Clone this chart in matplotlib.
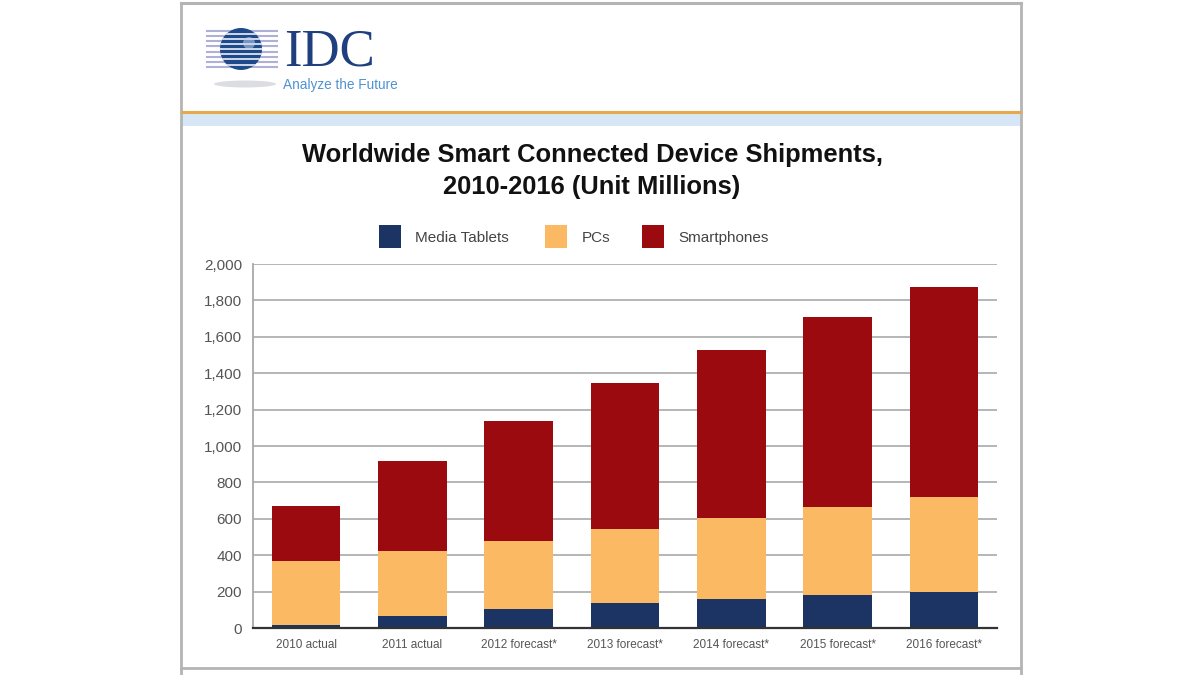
import matplotlib
matplotlib.use("Agg")
import matplotlib.pyplot as plt
from matplotlib.patches import Rectangle, Circle, Ellipse
from matplotlib.lines import Line2D
import numpy as np

plt.rcParams['font.family'] = ['Liberation Sans', 'DejaVu Sans']

categories = ["2010 actual", "2011 actual", "2012 forecast*", "2013 forecast*",
              "2014 forecast*", "2015 forecast*", "2016 forecast*"]
media_tablets = [17, 68, 105, 137, 160, 181, 198]
pcs = [351, 355, 373, 407, 446, 484, 522]
smartphones = [302, 495, 659, 802, 921, 1044, 1154]
series_names = ["Media Tablets", "PCs", "Smartphones"]
colors = ["#1b3464", "#fbb964", "#9b0a0e"]
yticks = [0, 200, 400, 600, 800, 1000, 1200, 1400, 1600, 1800, 2000]

W, H = 1200, 675
fig = plt.figure(figsize=(12, 6.75), dpi=100)
fig.patch.set_facecolor("white")

def fx(px):
    return px / W

def fy(py):
    return 1 - py / H

# Panel frame
frame_col = "#b4b4b4"
fig.add_artist(Line2D([fx(181), fx(1021)], [fy(3), fy(3)], color=frame_col, lw=2.2, transform=fig.transFigure))
fig.add_artist(Line2D([fx(181), fx(1021)], [fy(668), fy(668)], color=frame_col, lw=2.0, transform=fig.transFigure))
fig.add_artist(Line2D([fx(181), fx(181)], [fy(3), fy(675)], color=frame_col, lw=2.0, transform=fig.transFigure))
fig.add_artist(Line2D([fx(1021), fx(1021)], [fy(3), fy(675)], color=frame_col, lw=2.0, transform=fig.transFigure))

# Orange line and blue band
fig.add_artist(Rectangle((fx(182), fy(126)), fx(1020) - fx(182), 13 / H,
                         facecolor="#d7e6f4", edgecolor="none", transform=fig.transFigure))
fig.add_artist(Line2D([fx(182), fx(1020)], [fy(112), fy(112)], color="#e6a84a", lw=2.2, transform=fig.transFigure))

# Logo: globe with stripes
logo_ax = fig.add_axes([fx(200), fy(95), fx(290) - fx(200), fy(20) - fy(95)])
logo_ax.set_xlim(200, 290)
logo_ax.set_ylim(95, 20)
logo_ax.axis("off")
logo_ax.add_patch(Ellipse((245, 84), 62, 7, facecolor="#d4d4dc", edgecolor="none", alpha=0.8, zorder=0))
for yy in np.linspace(31, 67, 8):
    logo_ax.add_artist(Line2D([207, 277], [yy, yy], color="#aeb0d6", lw=1.5, zorder=1))
globe = Circle((241, 49), 21, facecolor="#1e4a8c", edgecolor="none", zorder=2)
logo_ax.add_patch(globe)
for yy in np.linspace(33.5, 64.5, 7):
    ln = Line2D([215, 270], [yy, yy], color="white", lw=1.1, zorder=3)
    logo_ax.add_artist(ln)
    ln.set_clip_path(globe)
hl = Circle((249, 43), 6, facecolor="#c4d2ec", edgecolor="none", alpha=0.55, zorder=4)
logo_ax.add_patch(hl)

fig.text(fx(284), fy(66), "IDC", family=["Liberation Serif", "DejaVu Serif"], fontsize=38,
         color="#1f3f7f", ha="left", va="baseline")
fig.text(fx(283), fy(78.5), "Analyze the Future", fontsize=9.8, color="#4f93d2", ha="left", va="top")

# Title
fig.text(fx(592), fy(155), "Worldwide Smart Connected Device Shipments,", fontsize=18.4, fontweight="bold",
         color="#111111", ha="center", va="center")
fig.text(fx(592), fy(187), "2010-2016 (Unit Millions)", fontsize=18.4, fontweight="bold",
         color="#111111", ha="center", va="center")

# Legend (manual)
leg_items = [(379, 415), (545, 582), (642, 678)]
for (sx, tx), name, c in zip(leg_items, series_names, colors):
    fig.add_artist(Rectangle((fx(sx), fy(248)), 22 / W, 23 / H,
                             facecolor=c, edgecolor="none", transform=fig.transFigure))
    fig.text(fx(tx), fy(238), name, fontsize=11, color="#444444", ha="left", va="center")

# Chart
ax = fig.add_axes([fx(253), fy(628), fx(997) - fx(253), fy(264) - fy(628)])
x = np.arange(len(categories))
bw = 0.645
b1 = np.array(media_tablets)
b2 = b1 + np.array(pcs)
ax.bar(x, media_tablets, bw, color=colors[0], zorder=3)
ax.bar(x, pcs, bw, bottom=b1, color=colors[1], zorder=3)
ax.bar(x, smartphones, bw, bottom=b2, color=colors[2], zorder=3)

ax.set_xlim(-0.5, len(categories) - 0.5)
ax.set_ylim(0, 2000)
ax.set_yticks(yticks)
ax.set_yticklabels([f"{v:,}" for v in yticks], fontsize=11, color="#555555")
ax.set_xticks(x)
ax.set_xticklabels(categories, fontsize=8.5, color="#555555")
ax.tick_params(axis="both", length=0)
ax.tick_params(axis="y", pad=8)
ax.tick_params(axis="x", pad=8)
ax.yaxis.grid(True, color="#b0b0b0", lw=1.3, zorder=0)
ax.set_axisbelow(True)
for s in ["top", "right"]:
    ax.spines[s].set_visible(False)
ax.spines["left"].set_color("#a8a8a8")
ax.spines["left"].set_linewidth(1.3)
ax.spines["bottom"].set_color("#333333")
ax.spines["bottom"].set_linewidth(1.6)
ax.spines["bottom"].set_zorder(4)
ax.set_facecolor("white")

fig.savefig("out.png", dpi=100)
